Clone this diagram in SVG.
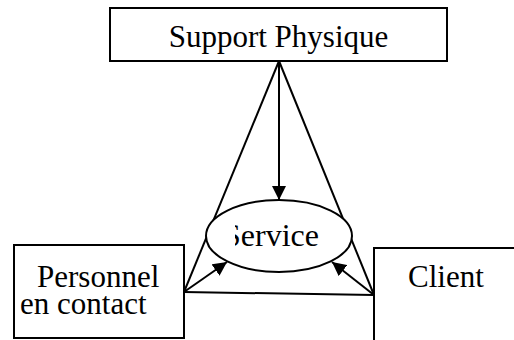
<svg xmlns="http://www.w3.org/2000/svg" width="514" height="340" viewBox="0 0 514 340">
  <style>
    .box { fill: #fff; stroke: #000; stroke-width: 2; }
    .edge { fill: none; stroke: #000; stroke-width: 2; }
  </style>
  <defs>
    <marker id="arrow" viewBox="0 0 14 14" refX="14" refY="7" markerWidth="14" markerHeight="14" markerUnits="userSpaceOnUse" orient="auto">
      <path d="M0,0 L14,7 L0,14 Z" fill="#000"/>
    </marker>
    <clipPath id="serviceClip">
      <rect x="235" y="210" width="100" height="50"/>
    </clipPath>
  </defs>
  <rect width="514" height="340" fill="#fff"/>

  <g font-family="'Liberation Serif', 'DejaVu Serif', serif" font-size="31" fill="#000">
    <g id="support">
      <rect class="box" x="110" y="8" width="337" height="53"/>
      <text x="278.5" y="47" text-anchor="middle">Support Physique</text>
    </g>

    <g id="connectors">
      <line class="edge" x1="279" y1="61" x2="184" y2="292"/>
      <line class="edge" x1="279" y1="61" x2="374" y2="295"/>
      <line class="edge" x1="184" y1="292" x2="374" y2="295"/>
      <line class="edge" x1="279" y1="61" x2="279" y2="200" marker-end="url(#arrow)"/>
      <line class="edge" x1="184" y1="292" x2="227" y2="262" marker-end="url(#arrow)"/>
      <line class="edge" x1="374" y1="295" x2="332" y2="262" marker-end="url(#arrow)"/>
    </g>

    <g id="service">
      <ellipse cx="279" cy="236" rx="73" ry="36" fill="#fff" stroke="#000" stroke-width="2"/>
      <text x="223" y="246" font-size="32" clip-path="url(#serviceClip)">Service</text>
    </g>

    <g id="personnel">
      <rect class="box" x="14" y="245" width="170" height="93"/>
      <text x="37" y="287">Personnel</text>
      <text x="20" y="314">en contact</text>
    </g>

    <g id="client">
      <path class="edge" d="M374,342 V248 H516"/>
      <text x="408" y="287">Client</text>
    </g>
  </g>
</svg>
